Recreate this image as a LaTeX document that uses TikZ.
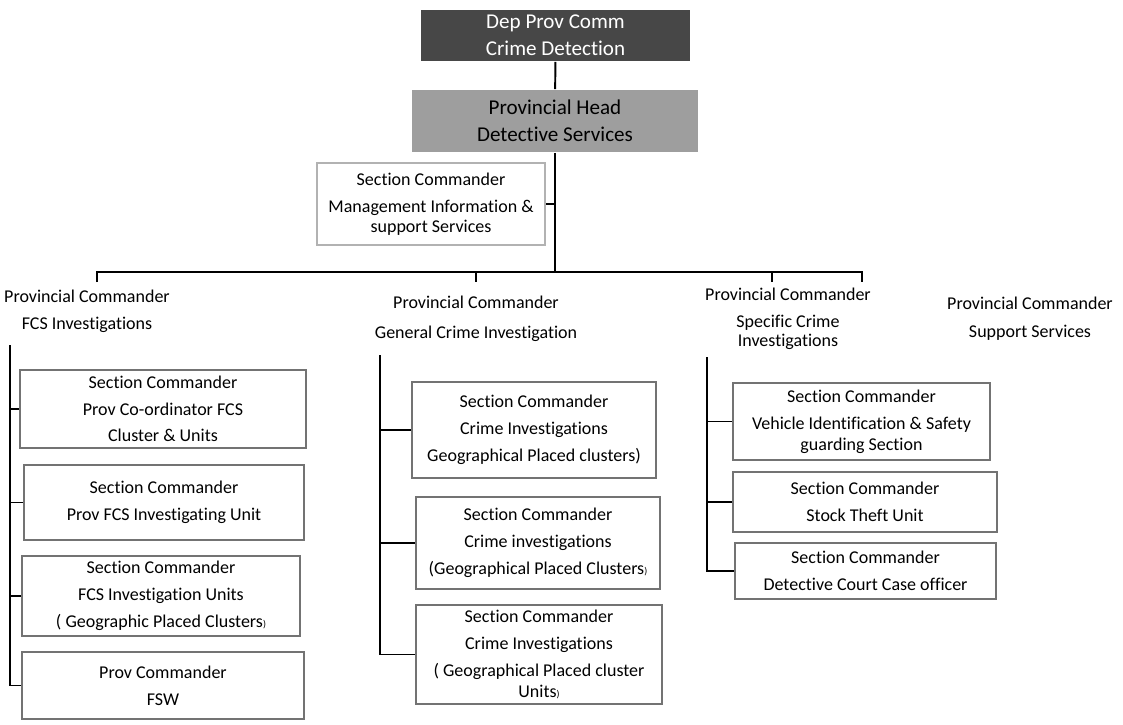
\documentclass[tikz,border=0pt]{standalone}
\usepackage{fontspec}
\setmainfont[Ligatures=NoCommon]{Carlito}
\newcommand{\px}{0.025cm}
\begin{document}
\begin{tikzpicture}[x=0.025cm,y=-0.025cm,line width=1.4pt,
  font=\fontsize{12.8}{19}\selectfont,
  headbox/.style={rectangle,inner sep=0pt,align=center,font=\fontsize{15}{19.5}\selectfont},
  secbox/.style={rectangle,draw=black!55,line width=2pt,inner sep=0pt,align=center},
  lbl/.style={inner sep=0pt,align=center}]
  \useasboundingbox (0,0) rectangle (1123,724);
  \node[headbox,fill=black!72,text=white,minimum width=269*\px,minimum height=51*\px] (dpc) at (555.5,35.5) {Dep Prov Comm\\Crime Detection};
  \node[headbox,fill=black!38,minimum width=286*\px,minimum height=62*\px] (phd) at (555,121) {Provincial Head\\Detective Services};
  \node[secbox,draw=black!30,minimum width=228*\px,minimum height=82*\px] (mis) at (431,204) {Section Commander\\Management Information \&\\[-5pt]support Services};
  \coordinate (bar) at (555,272);
  \coordinate (barl) at (97,272);
  \coordinate (barr) at (862,272);
  \coordinate (tfcs) at (97,282);
  \coordinate (tgci) at (476,282);
  \coordinate (tsci) at (772,282);
  \coordinate (tsup) at (862,282);
  \draw (dpc) -- (phd);
  \draw (phd) -- (bar);
  \draw (mis.east) -- (mis.east -| bar);
  \draw (tfcs) -- (barl) -- (barr) -- (tsup);
  \draw (tgci |- bar) -- (tgci);
  \draw (tsci |- bar) -- (tsci);
  \node[lbl] (fcs) at (87,311) {Provincial Commander\\FCS Investigations};
  \node[lbl] (gci) at (476,319) {Provincial Commander\\[2pt]General Crime Investigation};
  \node[lbl] (sci) at (788,319) {Provincial Commander\\Specific Crime\\[-5pt]Investigations};
  \node[lbl] (sup) at (1030,319) {Provincial Commander\\[1pt]Support Services};
  \node[secbox,minimum width=286*\px,minimum height=78*\px] (fcsA) at (163,409) {Section Commander\\Prov Co-ordinator FCS\\Cluster \& Units};
  \node[secbox,minimum width=280*\px,minimum height=75*\px] (fcsB) at (164,502.5) {Section Commander\\Prov FCS Investigating Unit};
  \node[secbox,minimum width=278*\px,minimum height=80*\px] (fcsC) at (161,596) {Section Commander\\FCS Investigation Units\\( Geographic Placed Clusters{\scriptsize)}};
  \node[secbox,minimum width=282*\px,minimum height=67*\px] (fcsD) at (163,685.5) {Prov Commander\\FSW};
  \node[secbox,minimum width=244*\px,minimum height=96*\px] (gciA) at (534,430) {Section Commander\\Crime Investigations\\Geographical Placed clusters)};
  \node[secbox,minimum width=244*\px,minimum height=92*\px] (gciB) at (538,543) {Section Commander\\Crime investigations\\(Geographical Placed Clusters{\scriptsize)}};
  \node[secbox,minimum width=246*\px,minimum height=99*\px] (gciC) at (539,654.5) {Section Commander\\Crime Investigations\\( Geographical Placed cluster\\[-4pt]Units{\scriptsize)}};
  \node[secbox,minimum width=257*\px,minimum height=77*\px] (sciA) at (861.5,421.5) {Section Commander\\Vehicle Identification \& Safety\\[-4pt]guarding Section};
  \node[secbox,minimum width=264*\px,minimum height=60*\px] (sciB) at (865,502) {Section Commander\\Stock Theft Unit};
  \node[secbox,minimum width=261*\px,minimum height=56*\px] (sciC) at (865.5,571) {Section Commander\\Detective Court Case officer};
  \coordinate (lfcs) at (10,345);
  \coordinate (lgci) at (380,355);
  \coordinate (lsci) at (707,357);
  \draw (lfcs) |- (fcsD.west);
  \draw (fcsA.west) -- (fcsA.west -| lfcs);
  \draw (fcsB.west) -- (fcsB.west -| lfcs);
  \draw (fcsC.west) -- (fcsC.west -| lfcs);
  \draw (lgci) |- (gciC.west);
  \draw (gciA.west) -- (gciA.west -| lgci);
  \draw (gciB.west) -- (gciB.west -| lgci);
  \draw (lsci) |- (sciC.west);
  \draw (sciA.west) -- (sciA.west -| lsci);
  \draw (sciB.west) -- (sciB.west -| lsci);
\end{tikzpicture}
\end{document}
